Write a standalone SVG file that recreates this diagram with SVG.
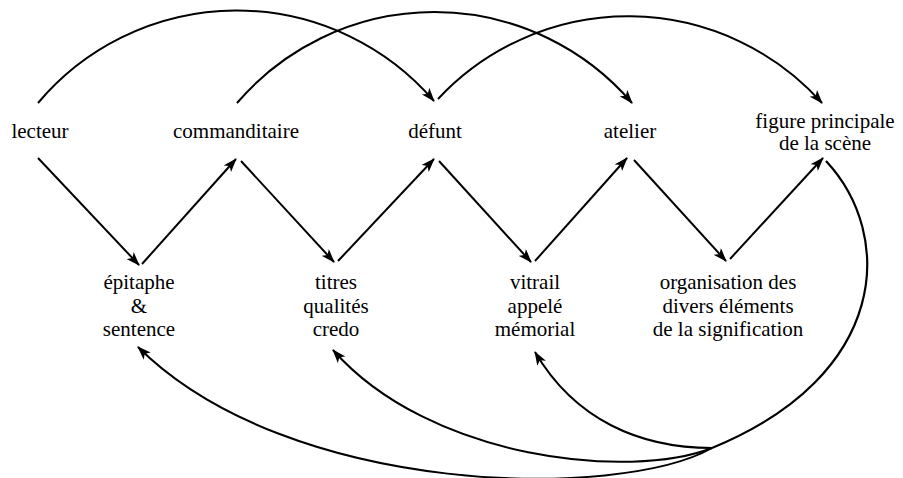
<svg xmlns="http://www.w3.org/2000/svg" width="903" height="478" viewBox="0 0 903 478">
<defs>
<style>
text{font-family:'Liberation Serif','DejaVu Serif','Times New Roman',serif;font-size:21px;fill:#000;text-anchor:middle}
.c{fill:none;stroke:#000;stroke-width:2;marker-end:url(#ah)}
.t{fill:none;stroke:#000;stroke-width:2.2}
</style>
<marker id="ah" viewBox="0 0 14 10" refX="13" refY="5" markerWidth="14" markerHeight="10" markerUnits="userSpaceOnUse" orient="auto">
<path d="M0,0 L14,5 L0,10 L3.5,5 z" fill="#000"/>
</marker>
</defs>
<rect width="903" height="478" fill="#fff"/>
<g id="connectors">
<path class="c" d="M38,158 L139,265"/>
<path class="c" d="M142,264 L236,159"/>
<path class="c" d="M241,161 L334,262"/>
<path class="c" d="M338,261 L434,159"/>
<path class="c" d="M439,161 L531,262"/>
<path class="c" d="M535,261 L627,158"/>
<path class="c" d="M634,160 L726,261"/>
<path class="c" d="M730,259 L823,158"/>
<path class="c" d="M38,103 A260,260 0 0 1 434,101"/>
<path class="c" d="M237,103 A260,260 0 0 1 632,103"/>
<path class="c" d="M438,99 A260,260 0 0 1 822,103"/>
<path class="t" d="M826,161 C895,235 890,375 712,448"/>
<path class="c" d="M712,448 C640,448 575,420 535,352"/>
<path class="c" d="M712,448 C630,480 430,460 333,350"/>
<path class="c" d="M712,448 C620,500 290,498 138,347"/>
</g>
<g id="lecteur" font-family="Liberation Serif, serif"><text x="40" y="138">lecteur</text></g>
<g id="commanditaire"><text x="236" y="138">commanditaire</text></g>
<g id="defunt"><text x="435" y="138">défunt</text></g>
<g id="atelier"><text x="630" y="138">atelier</text></g>
<g id="figure"><text x="825" y="128">figure principale</text><text x="825" y="150">de la scène</text></g>
<g id="epitaphe"><text x="139" y="289">épitaphe</text><text x="139" y="312.5">&amp;</text><text x="139" y="336">sentence</text></g>
<g id="titres"><text x="336" y="289">titres</text><text x="336" y="312.5">qualités</text><text x="336" y="336">credo</text></g>
<g id="vitrail"><text x="535" y="289">vitrail</text><text x="535" y="312.5">appelé</text><text x="535" y="336">mémorial</text></g>
<g id="organisation"><text x="728" y="289">organisation des</text><text x="728" y="312.5">divers éléments</text><text x="728" y="336">de la signification</text></g>
</svg>
